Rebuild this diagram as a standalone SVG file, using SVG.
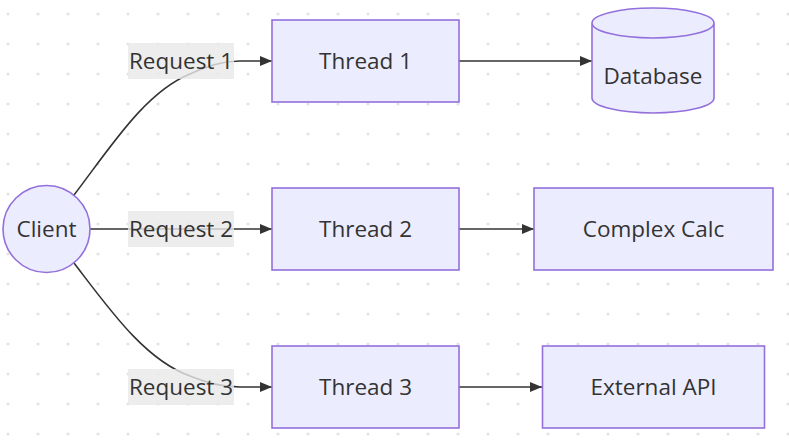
<svg xmlns="http://www.w3.org/2000/svg" width="789" height="448" viewBox="0 0 789 448">
<defs>
<pattern id="dots" x="0" y="0" width="30" height="30" patternUnits="userSpaceOnUse">
<circle cx="8" cy="14" r="1.6" fill="#e3e3e3"/>
</pattern>
<marker id="arrow" viewBox="0 0 12 10" refX="12" refY="5" markerWidth="12" markerHeight="10" markerUnits="userSpaceOnUse" orient="auto">
<path d="M0,0 L12,5 L0,10 z" fill="#333"/>
</marker>
<style>
.node rect, .node circle, .node path { fill: #ECECFF; stroke: #9370DB; stroke-width: 1.6; }
.label { font-family: "Open Sans", "Noto Sans", "DejaVu Sans", sans-serif; font-size: 22.5px; fill: #333; text-anchor: middle; }
.edge { fill: none; stroke: #333; stroke-width: 1.6; }
.elbg { fill: #e8e8e8; fill-opacity: 0.8; }
</style>
</defs>
<rect width="789" height="448" fill="#ffffff"/>
<rect width="789" height="448" fill="url(#dots)"/>

<g id="edges">
<path class="edge" d="M74,195 C110,148 145,92 190,74 C208,66 222,61 240,61 L272,61" marker-end="url(#arrow)"/>
<path class="edge" d="M90,229 L272,229" marker-end="url(#arrow)"/>
<path class="edge" d="M74,263 C110,310 145,360 190,376 C208,383 222,387 240,387 L272,387" marker-end="url(#arrow)"/>
<path class="edge" d="M459,61 L592,61" marker-end="url(#arrow)"/>
<path class="edge" d="M459,229 L534,229" marker-end="url(#arrow)"/>
<path class="edge" d="M459,387 L542,387" marker-end="url(#arrow)"/>
</g>

<g id="edge-labels">
<g id="label-request1">
<rect class="elbg" x="128" y="43" width="106" height="36"/>
<text class="label" x="181" y="69">Request 1</text>
</g>
<g id="label-request2">
<rect class="elbg" x="128" y="211" width="106" height="36"/>
<text class="label" x="181" y="237">Request 2</text>
</g>
<g id="label-request3">
<rect class="elbg" x="128" y="369" width="106" height="36"/>
<text class="label" x="181" y="395">Request 3</text>
</g>
</g>

<g id="client" class="node">
<circle cx="46.5" cy="229" r="43.5"/>
<text class="label" x="46.5" y="237">Client</text>
</g>
<g id="thread1" class="node">
<rect x="272" y="20" width="187" height="82"/>
<text class="label" x="365.5" y="69">Thread 1</text>
</g>
<g id="thread2" class="node">
<rect x="272" y="188" width="187" height="82"/>
<text class="label" x="365.5" y="237">Thread 2</text>
</g>
<g id="thread3" class="node">
<rect x="272" y="346" width="187" height="82"/>
<text class="label" x="365.5" y="395">Thread 3</text>
</g>
<g id="database" class="node">
<path d="M592,23 a61,15 0 0,0 122,0 a61,15 0 0,0 -122,0 l0,75 a61,15 0 0,0 122,0 l0,-75"/>
<text class="label" x="653" y="84">Database</text>
</g>
<g id="complexcalc" class="node">
<rect x="534" y="188" width="239" height="82"/>
<text class="label" x="653.5" y="237">Complex Calc</text>
</g>
<g id="externalapi" class="node">
<rect x="542.5" y="346" width="222" height="82"/>
<text class="label" x="653.5" y="395">External API</text>
</g>
</svg>
